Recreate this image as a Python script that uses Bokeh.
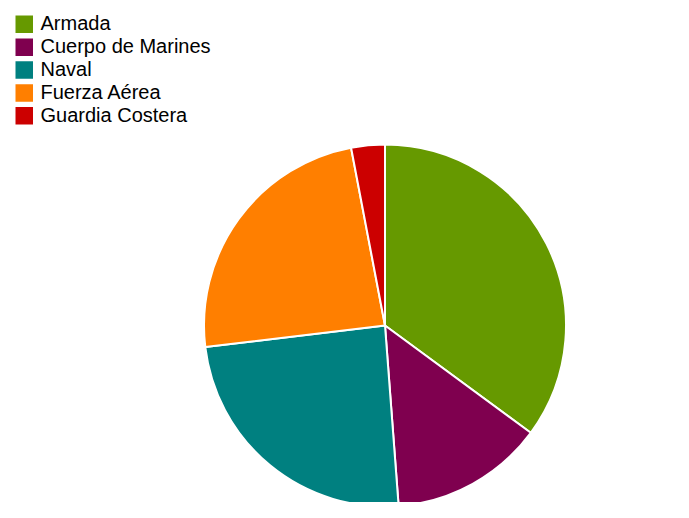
import numpy as np
from bokeh.plotting import figure
from bokeh.models import Range1d, ColumnDataSource
from bokeh.core.properties import value
from bokeh.embed import file_html
from bokeh.resources import INLINE

categories = ["Armada", "Cuerpo de Marines", "Naval", "Fuerza Aérea", "Guardia Costera"]
values = [35.1, 13.7, 24.3, 23.9, 3.0]
colors = ["#669900", "#7F004F", "#008080", "#FF7F00", "#CC0000"]

W, H = 673, 502
p = figure(width=W, height=H, output_backend="svg", toolbar_location=None,
           x_range=Range1d(0, W), y_range=Range1d(0, H),
           min_border=0, outline_line_color=None)
p.axis.visible = False
p.grid.visible = False
p.background_fill_color = "white"
p.border_fill_color = "white"

# pie wedges (clockwise from 12 o'clock)
vals = np.array(values, dtype=float)
frac = vals / vals.sum()
cum_end = np.cumsum(frac)
cum_start = cum_end - frac
start = np.pi / 2 - cum_start * 2 * np.pi
end = np.pi / 2 - cum_end * 2 * np.pi

cx, cy, r = 384.5, H - 325, 181
src = ColumnDataSource(dict(start=start, end=end, color=colors, cat=categories))
p.wedge(x=cx, y=cy, radius=r, start_angle="start", end_angle="end",
        direction="clock", fill_color="color", line_color="white",
        line_width=2, source=src)

# legend (layout in pixel units; ranges map 1:1 to pixels)
n = len(categories)
sq, pitch, top0, left0 = 17.5, 22.9, 15.0, 15.0
rows = np.arange(n)
leg = ColumnDataSource(dict(
    x=np.full(n, left0 + sq / 2),
    y=H - (top0 + sq / 2 + rows * pitch),
    tx=np.full(n, 40.0),
    ty=H - (top0 + sq / 2 - 1 + rows * pitch),
    color=colors, label=categories))
p.rect(x="x", y="y", width=sq, height=sq, fill_color="color",
       line_color=None, source=leg)
p.text(x="tx", y="ty", text="label", source=leg,
       text_font=value("Liberation Sans"), text_font_size="20px",
       text_color="black", text_baseline="middle", text_align="left")

open("out.html", "w").write(file_html(p, INLINE))
